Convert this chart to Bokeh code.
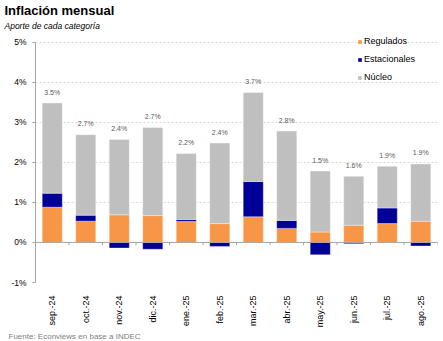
import math
import numpy as np
from bokeh.plotting import figure
from bokeh.models import (Range1d, FixedTicker, Span, Legend, LegendItem,
                          ColumnDataSource, Title)
from bokeh.embed import file_html
from bokeh.resources import INLINE

# ---- data ----
months = ["sep.-24", "oct.-24", "nov.-24", "dic.-24", "ene.-25", "feb.-25",
          "mar.-25", "abr.-25", "may.-25", "jun.-25", "jul.-25", "ago.-25"]
regulados = [0.88, 0.53, 0.69, 0.67, 0.52, 0.47, 0.64, 0.35, 0.26, 0.43, 0.47, 0.53]
estacionales = [0.35, 0.15, -0.14, -0.17, 0.05, -0.10, 0.88, 0.20, -0.31, -0.03, 0.39, -0.09]
nucleo = [2.25, 2.01, 1.88, 2.20, 1.65, 2.01, 2.22, 2.23, 1.52, 1.22, 1.04, 1.43]
total_labels = ["3.5%", "2.7%", "2.4%", "2.7%", "2.2%", "2.4%",
                "3.7%", "2.8%", "1.5%", "1.6%", "1.9%", "1.9%"]
y_ticks = [-1, 0, 1, 2, 3, 4, 5]
y_tick_labels = ["-1%", "0%", "1%", "2%", "3%", "4%", "5%"]
series_names = ["Regulados", "Estacionales", "Núcleo"]

FONT = "Liberation Sans"
ORANGE, BLUE, GRAY = "#F79646", "#000099", "#BFBFBF"

reg = np.array(regulados)
est = np.array(estacionales)
nuc = np.array(nucleo)
x = np.arange(len(months)) + 0.5

reg_bottom = np.zeros_like(reg)
reg_top = reg
est_bottom = np.where(est >= 0, reg, est)
est_top = np.where(est >= 0, reg + est, 0.0)
nuc_bottom = reg + np.clip(est, 0, None)
nuc_top = nuc_bottom + nuc

src = ColumnDataSource(dict(x=x, rb=reg_bottom, rt=reg_top, eb=est_bottom, et=est_top,
                            nb=nuc_bottom, nt=nuc_top, lab=total_labels))

p = figure(width=443, height=341, x_range=Range1d(0, len(months)), y_range=Range1d(-1, 5.24),
           output_backend="svg", toolbar_location=None, title=None,
           min_border_left=35, min_border_right=6, min_border_top=32, min_border_bottom=59)
p.outline_line_color = None
p.background_fill_color = "white"
p.border_fill_color = "white"

W = 0.6
r_reg = p.vbar(x="x", bottom="rb", top="rt", width=W, source=src, fill_color=ORANGE,
               line_color="white", line_alpha=0.5, line_width=0.7)
r_est = p.vbar(x="x", bottom="eb", top="et", width=W, source=src, fill_color=BLUE,
               line_color="white", line_alpha=0.5, line_width=0.7)
r_nuc = p.vbar(x="x", bottom="nb", top="nt", width=W, source=src, fill_color=GRAY,
               line_color="white", line_alpha=0.5, line_width=0.7)

# value labels
p.text(x="x", y="nt", text="lab", source=src, text_align="center", text_baseline="middle",
       y_offset=-11, text_font_size="7px", text_color="#595959",
       text_font={"value": FONT})

# zero line + category separator ticks
p.add_layout(Span(location=0, dimension="width", line_color="#A6A6A6", line_width=1))
sep = np.arange(1, len(months) + 1)
p.segment(x0=sep, y0=np.zeros(len(sep)), x1=sep, y1=np.full(len(sep), -0.07),
          line_color="#A6A6A6", line_width=1)

# y axis
yax = p.yaxis[0]
yax.ticker = FixedTicker(ticks=y_ticks)
yax.bounds = (min(y_ticks), max(y_ticks))
yax.major_label_overrides = {t: l for t, l in zip(y_ticks, y_tick_labels)}
yax.axis_line_color = "#A6A6A6"
yax.major_tick_line_color = "#A6A6A6"
yax.major_tick_out = 3
yax.major_tick_in = 0
yax.minor_tick_line_color = None
yax.major_label_text_font = FONT
yax.major_label_text_font_size = "8.5px"
yax.major_label_text_color = "#000000"
yax.major_label_standoff = 6

# x axis
xax = p.xaxis[0]
xax.ticker = FixedTicker(ticks=list(x))
xax.major_label_overrides = {float(v): m for v, m in zip(x, months)}
xax.axis_line_color = None
xax.major_tick_line_color = None
xax.minor_tick_line_color = None
xax.major_label_orientation = math.pi / 2
xax.major_label_text_font = FONT
xax.major_label_text_font_size = "9px"
xax.major_label_text_color = "#000000"
xax.major_label_standoff = 7

# grid
p.xgrid.grid_line_color = None
p.ygrid.ticker = FixedTicker(ticks=y_ticks)
p.ygrid.grid_line_color = "#D9D9D9"
p.ygrid.grid_line_dash = "2 2"

# legend
legend = Legend(items=[LegendItem(label=series_names[0], renderers=[r_reg]),
                       LegendItem(label=series_names[1], renderers=[r_est]),
                       LegendItem(label=series_names[2], renderers=[r_nuc])],
                location=(322, 199), orientation="vertical")
legend.glyph_width = 5
legend.glyph_height = 5
legend.label_height = 12
legend.spacing = 6
legend.padding = 0
legend.margin = 0
legend.label_standoff = 2
legend.label_text_font = FONT
legend.label_text_font_size = "9px"
legend.label_text_color = "#000000"
legend.background_fill_alpha = 0
legend.border_line_color = None
p.add_layout(legend)

# titles & source
p.add_layout(Title(text="Aporte de cada categoría", align="left", offset=-31, standoff=3,
                   text_font=FONT, text_font_size="8.5px", text_font_style="italic",
                   text_color="#000000"), "above")
p.add_layout(Title(text="Inflación mensual", align="left", offset=-31, standoff=0,
                   text_font=FONT, text_font_size="13px", text_font_style="bold",
                   text_color="#000000"), "above")
p.add_layout(Title(text="Fuente: Econviews en base a INDEC", align="left", offset=-27,
                   standoff=-1, text_font=FONT, text_font_size="8px", text_font_style="normal",
                   text_color="#808080"), "below")

open("out.html", "w").write(file_html(p, INLINE))
